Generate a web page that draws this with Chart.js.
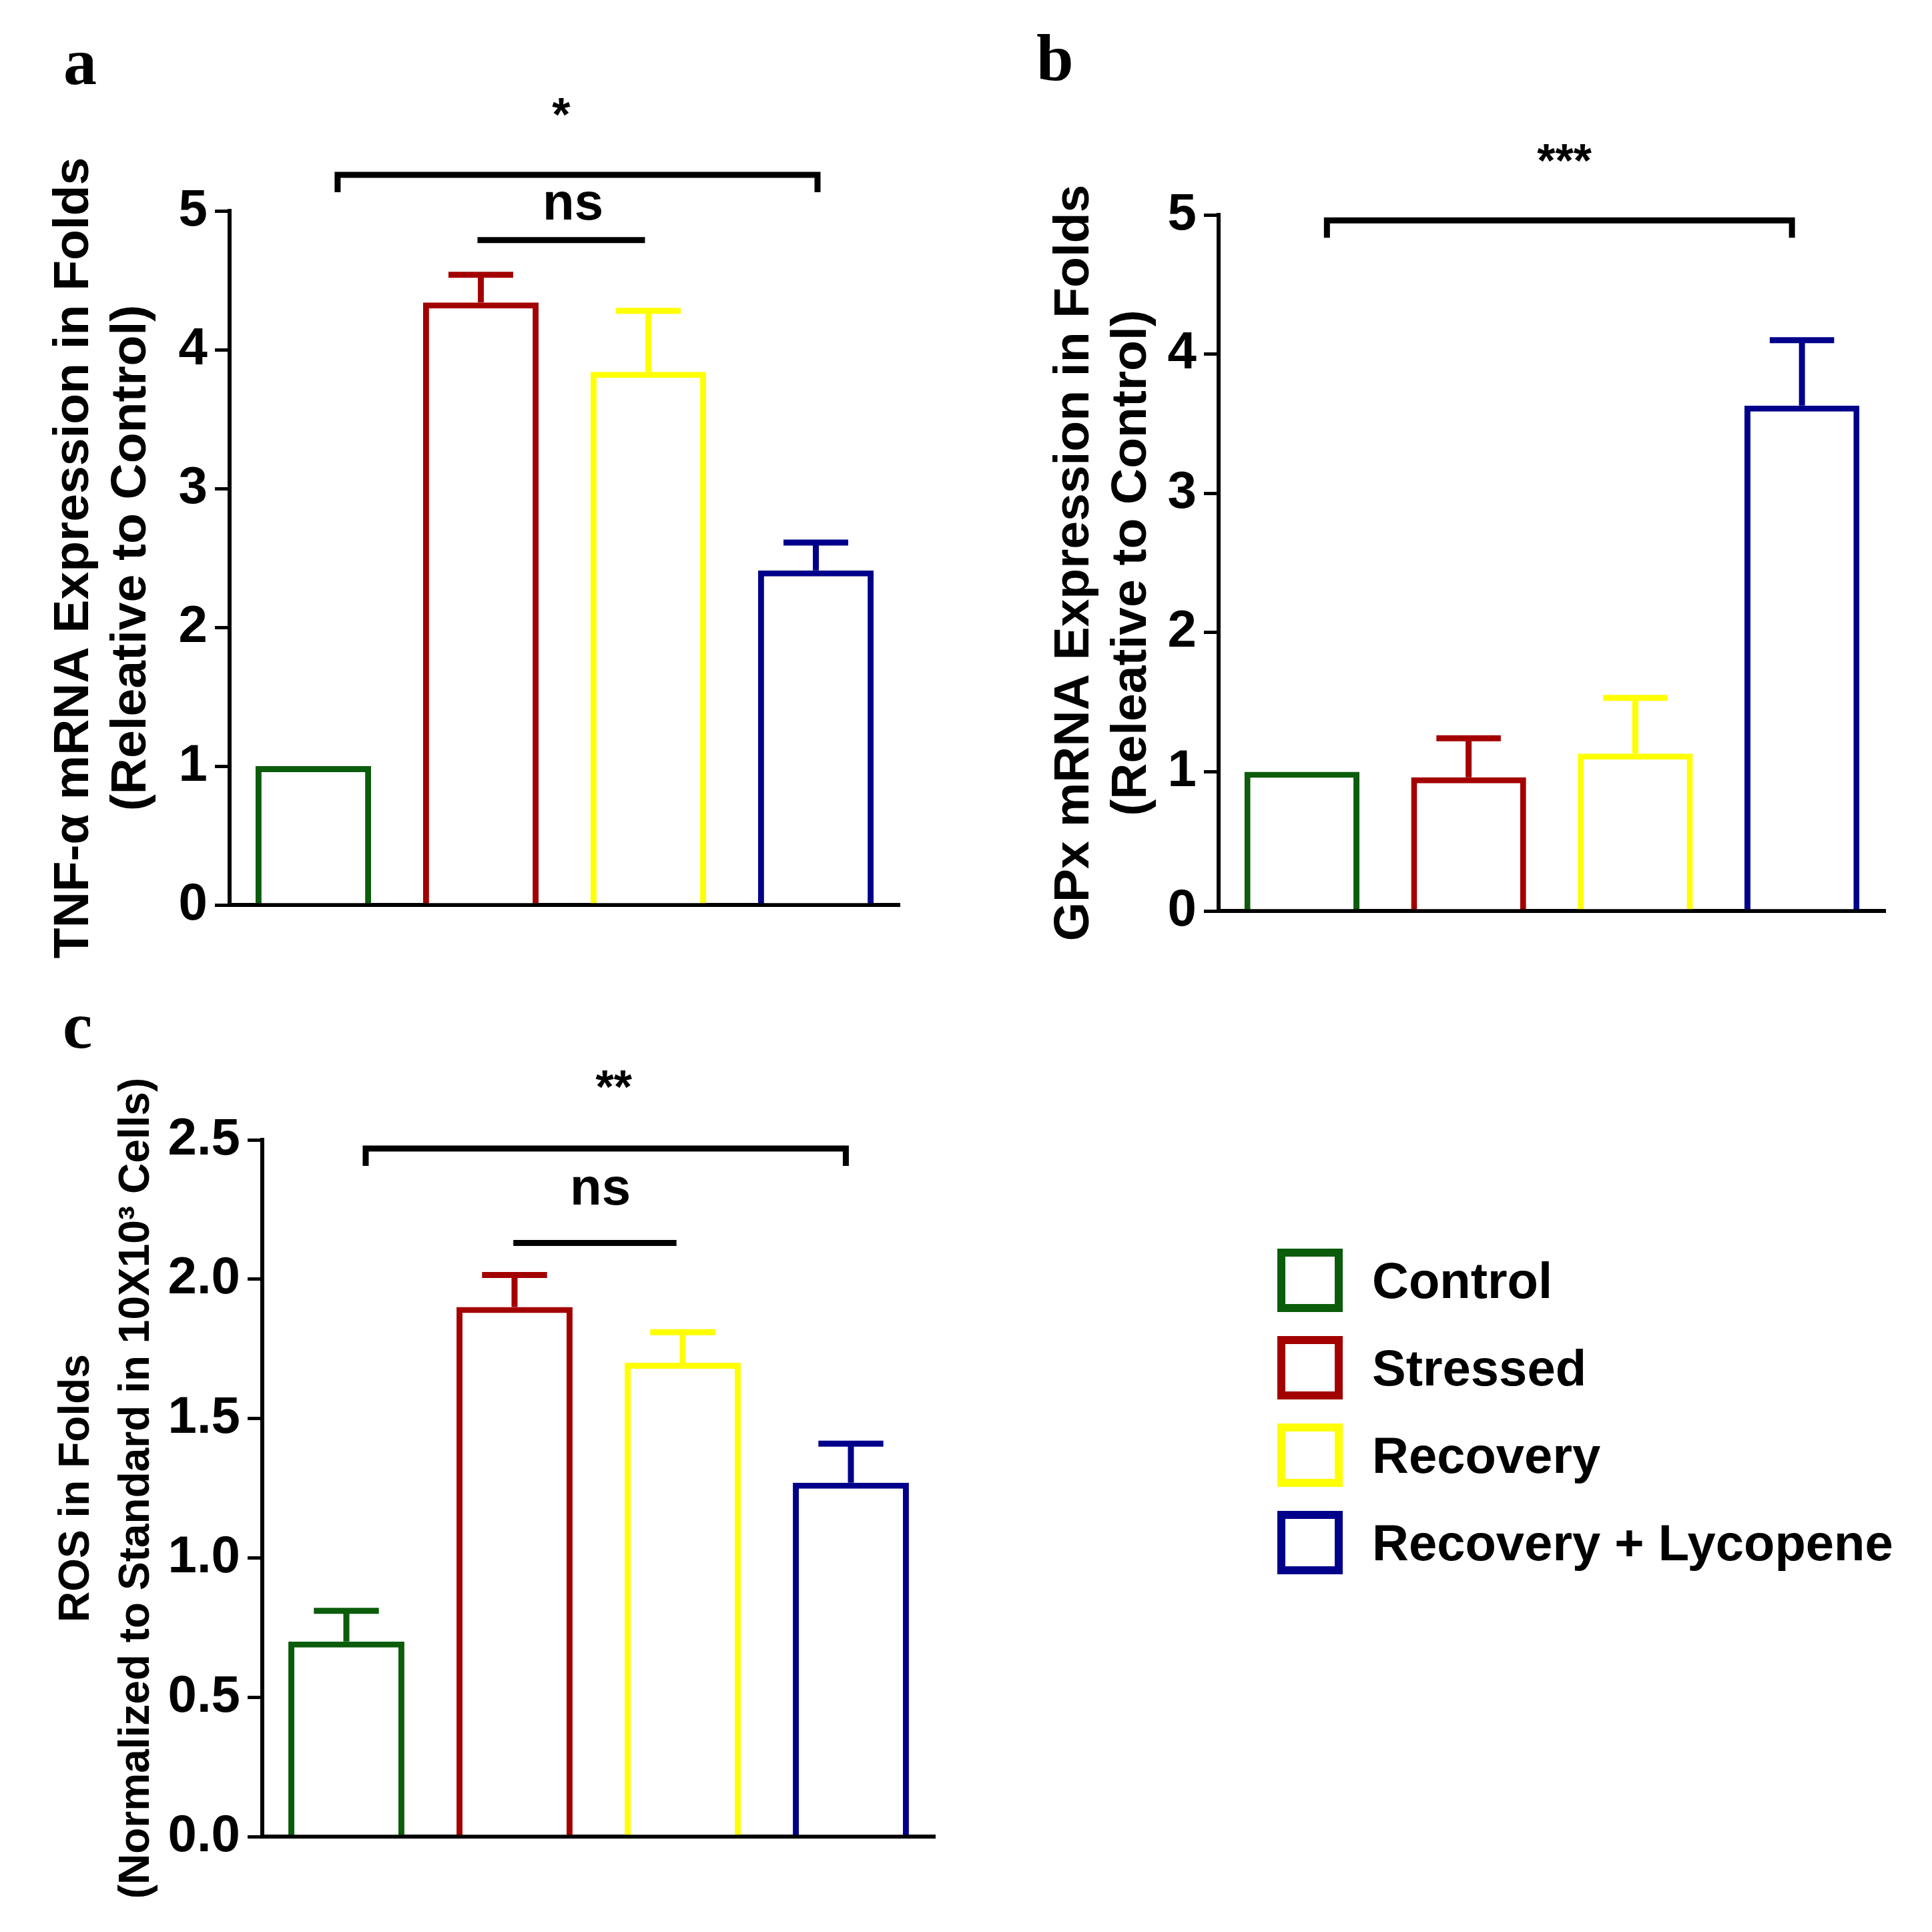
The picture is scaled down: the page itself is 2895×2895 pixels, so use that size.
<!DOCTYPE html>
<html>
<head>
<meta charset="utf-8">
<script src="https://cdn.jsdelivr.net/npm/chart.js@4.4.1/dist/chart.umd.min.js"></script>
<style>
  body{margin:0;background:#fff;width:2895px;height:2895px;position:relative;overflow:hidden;
       font-family:"Liberation Sans",Arial,sans-serif}
  canvas{position:absolute}
  .tag{position:absolute;font:bold 100px "Liberation Serif","Times New Roman",serif;line-height:1;color:#000}
  #legend{position:absolute;left:1914px;top:1853px}
  .row{display:flex;align-items:center;height:131px}
  .sw{flex:0 0 auto;width:74px;height:71px;border:12px solid;background:#fff}
  .lbl{margin-left:44px;font:bold 76px "Liberation Sans",Arial,sans-serif;color:#000;white-space:nowrap}
</style>
</head>
<body>
<div class="tag" style="left:95px;top:43px">a</div>
<div class="tag" style="left:1553px;top:37px">b</div>
<div class="tag" style="left:94px;top:1487px">c</div>
<canvas id="chartA" width="1420" height="1450" style="left:0;top:0"></canvas>
<canvas id="chartB" width="1415" height="1450" style="left:1480px;top:0"></canvas>
<canvas id="chartC" width="1450" height="1445" style="left:0;top:1450px"></canvas>
<div id="legend"></div>
<script>
// groups + colours
const groups = ["Control", "Stressed", "Recovery", "Recovery + Lycopene"];
const colors = ["#0b5c0b", "#a30000", "#ffff00", "#00008b"];

// a: TNF-alpha
const tnfMean = [1.00, 4.34, 3.84, 2.41];
const tnfErr  = [0, 0.20, 0.44, 0.20];
// b: GPx
const gpxMean = [1.00, 0.96, 1.13, 3.63];
const gpxErr  = [0, 0.28, 0.40, 0.47];
// c: ROS
const rosMean = [0.70, 1.90, 1.70, 1.27];
const rosErr  = [0.11, 0.115, 0.11, 0.14];

const ticksFold = ["0", "1", "2", "3", "4", "5"];
const ticksRos  = ["0.0", "0.5", "1.0", "1.5", "2.0", "2.5"];

// significance marks, in data units (x = category index)
const sigA = {
  brackets: [{from: 0.145, to: 3.01, y: 5.26, drop: true}, {from: 0.98, to: 1.98, y: 4.79}],
  labels:   [{x: 1.48, y: 5.73, text: "*", star: true}, {x: 1.55, y: 5.04, text: "ns"}]
};
const sigB = {
  brackets: [{from: 0.15, to: 2.94, y: 4.96, drop: true}],
  labels:   [{x: 1.575, y: 5.43, text: "***", star: true}]
};
const sigC = {
  brackets: [{from: 0.115, to: 2.97, y: 2.469, drop: true}, {from: 0.993, to: 1.963, y: 2.13}],
  labels:   [{x: 1.59, y: 2.71, text: "**", star: true}, {x: 1.51, y: 2.32, text: "ns"}]
};

const FONT = "'Liberation Sans', Arial, sans-serif";

const errPlugin = {
  id: "errbars",
  afterDatasetsDraw(chart){
    const {ctx, scales: {y}} = chart;
    chart.data.datasets.forEach((ds, di) => {
      chart.getDatasetMeta(di).data.forEach((bar, i) => {
        const e = ds.err[i];
        if(!e) return;
        const top = y.getPixelForValue(ds.data[i] + e);
        const half = bar.width * 0.28;
        ctx.save();
        ctx.strokeStyle = ds.borderColor[i];
        ctx.lineWidth = 9;
        ctx.beginPath();
        ctx.moveTo(bar.x, bar.y); ctx.lineTo(bar.x, top);
        ctx.moveTo(bar.x - half, top); ctx.lineTo(bar.x + half, top);
        ctx.stroke();
        ctx.restore();
      });
    });
  }
};

const sigPlugin = {
  id: "sig",
  afterDraw(chart, args, opts){
    const {ctx, scales: {x, y}} = chart;
    ctx.save();
    ctx.strokeStyle = "#000";
    ctx.lineWidth = 9;
    for(const b of opts.brackets || []){
      const x1 = x.getPixelForValue(b.from), x2 = x.getPixelForValue(b.to);
      const yy = y.getPixelForValue(b.y);
      ctx.beginPath();
      if(b.drop){
        ctx.moveTo(x1, yy + 26); ctx.lineTo(x1, yy); ctx.lineTo(x2, yy); ctx.lineTo(x2, yy + 26);
      }else{
        ctx.moveTo(x1, yy); ctx.lineTo(x2, yy);
      }
      ctx.stroke();
    }
    ctx.fillStyle = "#000";
    ctx.textAlign = "center";
    ctx.textBaseline = "middle";
    for(const l of opts.labels || []){
      ctx.font = l.star ? `bold 70px ${FONT}` : `bold 78px ${FONT}`;
      ctx.fillText(l.text, x.getPixelForValue(l.x), y.getPixelForValue(l.y) + (l.star ? 13 : 0));
    }
    ctx.restore();
  }
};

function mkPanel(id, mean, err, yMax, step, tickLabels, title, titleSize, titleLH, yWidth, pad, sig){
  return new Chart(document.getElementById(id), {
    type: "bar",
    data: {
      labels: groups,
      datasets: [{
        data: mean, err: err,
        backgroundColor: "#ffffff",
        borderColor: colors,
        borderWidth: 9,
        barPercentage: 0.69,
        categoryPercentage: 1
      }]
    },
    options: {
      responsive: false, animation: false, devicePixelRatio: 1,
      layout: {padding: pad},
      scales: {
        x: {
          ticks: {display: false},
          grid: {display: false, drawTicks: false},
          border: {display: true, color: "#000", width: 6},
          afterFit: s => { s.height = 0; }
        },
        y: {
          min: 0, max: yMax,
          ticks: {stepSize: step, padding: 11, color: "#000",
                  font: {size: 78, weight: "bold", family: FONT},
                  callback: (v, i) => tickLabels[i]},
          grid: {drawOnChartArea: false, drawTicks: true, tickLength: 22, lineWidth: 5, color: "#000"},
          border: {display: true, color: "#000", width: 6},
          title: {display: true, text: title, color: "#000", padding: 0,
                  font: {size: titleSize, weight: "bold", family: FONT, lineHeight: titleLH}},
          afterFit: s => { s.width = yWidth; }
        }
      },
      plugins: {legend: {display: false}, tooltip: {enabled: false}, sig: sig}
    },
    plugins: [errPlugin, sigPlugin]
  });
}

mkPanel("chartA", tnfMean, tnfErr, 5, 1, ticksFold,
  ["TNF-\u03b1 mRNA Expression in Folds", "(Releative to Control)"], 75, 1.15,
  276, {left: 68, top: 316, right: 72, bottom: 94}, sigA);

mkPanel("chartB", gpxMean, gpxErr, 5, 1, ticksFold,
  ["GPx mRNA Expression in Folds", "(Releative to Control)"], 75, 1.15,
  259, {left: 87, top: 322, right: 70, bottom: 85}, sigB);

mkPanel("chartC", rosMean, rosErr, 2.5, 0.5, ticksRos,
  ["ROS in Folds", "(Normalized to Standard in 10X10\u00b3 Cells)"], 64, 1.4,
  322, {left: 71, top: 258, right: 49, bottom: 143}, sigC);

// legend
const leg = document.getElementById("legend");
groups.forEach((g, i) => {
  const row = document.createElement("div");
  row.className = "row";
  row.innerHTML = `<div class="sw" style="border-color:${colors[i]}"></div><div class="lbl">${g}</div>`;
  leg.appendChild(row);
});
</script>
</body>
</html>
